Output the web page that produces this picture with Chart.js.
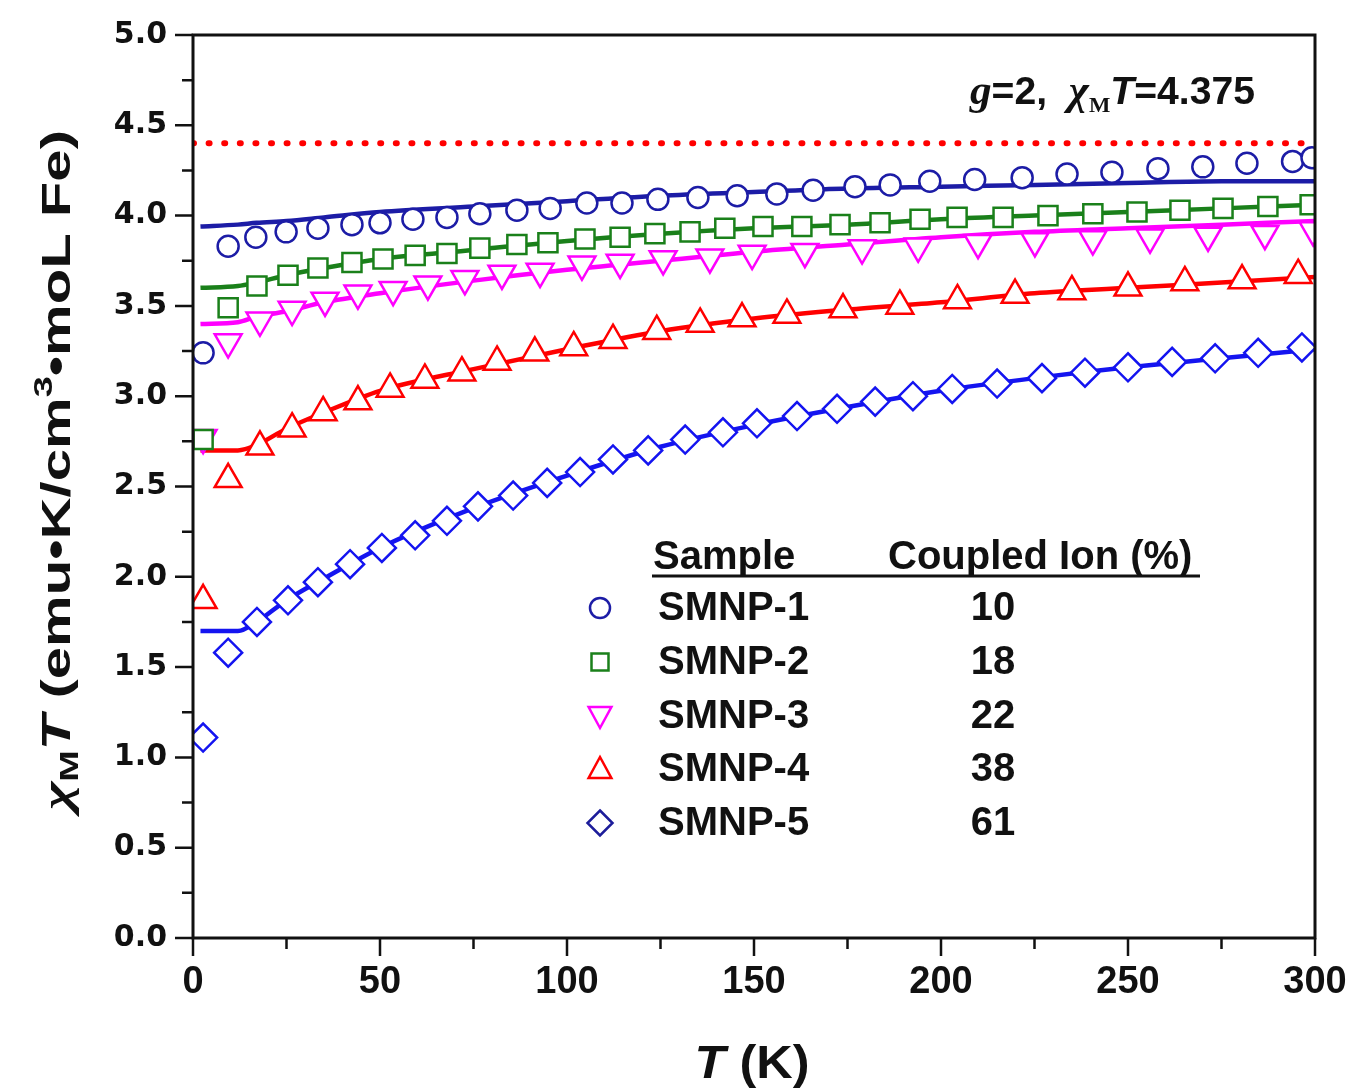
<!DOCTYPE html>
<html>
<head>
<meta charset="utf-8">
<script src="https://cdn.jsdelivr.net/npm/chart.js@4.4.1/dist/chart.umd.min.js"></script>
<style>
  html, body { margin: 0; padding: 0; background: #fff; }
  #wrap { width: 1352px; height: 1089px; position: relative; }
</style>
</head>
<body>
<div id="wrap"><canvas id="chi-canvas"></canvas></div>
<script>
// measured points (T in K, chiM*T)
const s1T = [2.7, 9.4, 16.8, 24.9, 33.4, 42.5, 50, 58.8, 67.9, 76.7, 86.6, 95.5, 105.3, 114.7, 124.3, 135, 145.5, 156.1, 165.8, 177, 186.4, 197, 209, 221.7, 233.7, 245.7, 258, 270, 281.8, 294, 299.2];
const s1Y = [3.24, 3.83, 3.88, 3.91, 3.93, 3.95, 3.96, 3.98, 3.99, 4.01, 4.03, 4.04, 4.07, 4.07, 4.09, 4.10, 4.11, 4.12, 4.14, 4.16, 4.17, 4.19, 4.20, 4.21, 4.23, 4.24, 4.26, 4.27, 4.29, 4.30, 4.32];

const s2T = [2.7, 9.4, 17.1, 25.4, 33.4, 42.5, 50.8, 59.4, 67.9, 76.7, 86.6, 94.9, 104.8, 114.2, 123.5, 132.9, 142.2, 152.4, 162.8, 173, 183.7, 194.4, 204.3, 216.6, 228.6, 240.6, 252.4, 263.9, 275.4, 287.4, 298.7];
const s2Y = [2.76, 3.49, 3.61, 3.67, 3.71, 3.74, 3.76, 3.78, 3.79, 3.82, 3.84, 3.85, 3.87, 3.88, 3.90, 3.91, 3.93, 3.94, 3.94, 3.95, 3.96, 3.98, 3.99, 3.99, 4.00, 4.01, 4.02, 4.03, 4.04, 4.05, 4.06];

const s3T = [2.7, 9.4, 17.9, 26.5, 35.3, 44.1, 53.5, 62.8, 72.7, 82.6, 92.8, 104, 114.2, 125.7, 138.2, 149.5, 163.6, 178.9, 193.9, 209.9, 225.1, 240.6, 255.9, 271.4, 286.6, 299.5];
const s3Y = [2.77, 3.30, 3.42, 3.48, 3.53, 3.57, 3.59, 3.62, 3.65, 3.68, 3.69, 3.73, 3.74, 3.76, 3.77, 3.79, 3.80, 3.82, 3.83, 3.85, 3.86, 3.87, 3.88, 3.89, 3.90, 3.92];

const s4T = [2.7, 9.4, 17.9, 26.5, 34.8, 44.1, 52.7, 62, 71.9, 81.3, 91.4, 101.8, 112.3, 124, 135.6, 146.8, 158.8, 173.8, 189, 204.4, 219.8, 235, 250, 265.2, 280.5, 295.5];
const s4Y = [1.87, 2.54, 2.72, 2.82, 2.91, 2.97, 3.04, 3.09, 3.13, 3.19, 3.24, 3.27, 3.31, 3.36, 3.40, 3.43, 3.45, 3.48, 3.50, 3.53, 3.56, 3.58, 3.60, 3.63, 3.64, 3.67];

const s5T = [2.7, 9.4, 17.1, 25.4, 33.4, 42, 50.5, 59.4, 67.9, 76.2, 85.6, 94.7, 103.5, 112.3, 121.7, 131.6, 141.7, 150.8, 161.5, 172.2, 182.4, 192.5, 203, 215, 227, 238.5, 250, 261.8, 273.3, 284.8, 296.5];
const s5Y = [1.11, 1.58, 1.75, 1.87, 1.97, 2.07, 2.16, 2.23, 2.31, 2.39, 2.45, 2.52, 2.58, 2.65, 2.70, 2.76, 2.80, 2.85, 2.89, 2.93, 2.97, 3.00, 3.04, 3.07, 3.10, 3.13, 3.16, 3.19, 3.21, 3.24, 3.27];

// fitted curves
const fitT = [2, 12, 17, 25, 35, 50, 75, 100, 125, 150, 175, 200, 225, 250, 275, 300];
const fit1 = [3.94, 3.95, 3.96, 3.97, 3.99, 4.02, 4.05, 4.08, 4.11, 4.13, 4.15, 4.16, 4.17, 4.18, 4.19, 4.19];
const fit2 = [3.60, 3.61, 3.63, 3.67, 3.71, 3.76, 3.81, 3.86, 3.90, 3.93, 3.95, 3.98, 4.00, 4.02, 4.04, 4.06];
const fit3 = [3.40, 3.41, 3.44, 3.47, 3.52, 3.57, 3.64, 3.70, 3.75, 3.80, 3.84, 3.88, 3.91, 3.93, 3.95, 3.97];
const fit4 = [2.70, 2.70, 2.73, 2.82, 2.91, 3.03, 3.15, 3.26, 3.36, 3.43, 3.48, 3.52, 3.57, 3.60, 3.63, 3.66];
const fit5 = [1.70, 1.70, 1.75, 1.87, 1.99, 2.16, 2.38, 2.56, 2.72, 2.84, 2.94, 3.03, 3.10, 3.16, 3.21, 3.26];

// g=2 spin-only level
const limitT = [0, 300];
const limitY = [4.4, 4.4];

const sampleNames = ['SMNP-1', 'SMNP-2', 'SMNP-3', 'SMNP-4', 'SMNP-5'];
const coupledIon = ['10', '18', '22', '38', '61'];
const colors = ['#1c1ca6', '#1a801a', '#ff00ff', '#ff0000', '#1414f0'];
const styles = ['circle', 'rect', 'triangle', 'triangle', 'rectRot'];
const rotations = [0, 0, 180, 0, 0];
const radii = [10.5, 13.5, 15.5, 15.5, 14];

const pts = (xs, ys) => xs.map((v, i) => ({x: v, y: ys[i]}));

const measured = [[s1T, s1Y], [s2T, s2Y], [s3T, s3Y], [s4T, s4Y], [s5T, s5Y]];
const fits = [fit1, fit2, fit3, fit4, fit5];

const datasets = [];
measured.forEach((m, i) => {
    datasets.push({
        label: sampleNames[i],
        data: pts(m[0], m[1]),
        showLine: false,
        pointStyle: styles[i],
        rotation: rotations[i],
        pointRadius: radii[i],
        pointBorderWidth: 2.5,
        borderColor: colors[i],
        backgroundColor: '#ffffff',
        order: 0
    });
});
fits.forEach((f, i) => {
    datasets.push({
        label: sampleNames[i] + ' fit',
        data: pts(fitT, f),
        showLine: true,
        borderColor: colors[i],
        borderWidth: 4.5,
        pointRadius: 0,
        cubicInterpolationMode: 'monotone',
        order: 1
    });
});
datasets.push({
    label: 'g=2',
    data: pts(limitT, limitY),
    showLine: true,
    borderColor: '#ff0000',
    borderWidth: 6,
    borderDash: [1, 14.6],
    borderCapStyle: 'round',
    pointRadius: 0,
    order: 2
});

function marker(ctx, style, rot, x, y, r) {
    ctx.beginPath();
    if (style === 'circle') {
        ctx.arc(x, y, r, 0, Math.PI * 2);
    } else if (style === 'rect') {
        ctx.rect(x - r, y - r, 2 * r, 2 * r);
    } else if (style === 'triangle') {
        const s = rot ? -1 : 1;
        ctx.moveTo(x, y - s * r);
        ctx.lineTo(x + r * 0.95, y + s * r * 0.75);
        ctx.lineTo(x - r * 0.95, y + s * r * 0.75);
        ctx.closePath();
    } else {
        ctx.moveTo(x, y - r); ctx.lineTo(x + r, y); ctx.lineTo(x, y + r); ctx.lineTo(x - r, y);
        ctx.closePath();
    }
    ctx.stroke();
}

// draws runs of text with different fonts / offsets; stretch = target width
function richText(ctx, parts, x, y, align, stretch) {
    let w = 0;
    parts.forEach(p => { ctx.font = p.font; w += ctx.measureText(p.t).width; });
    const k = stretch ? stretch / w : 1;
    ctx.save();
    ctx.translate(x, y);
    ctx.scale(k, 1);
    let cx = align === 'center' ? -w / 2 : 0;
    parts.forEach(p => {
        ctx.font = p.font;
        ctx.fillText(p.t, cx, p.dy || 0);
        cx += ctx.measureText(p.t).width;
    });
    ctx.restore();
}

const SANS = "'Liberation Sans', Arial, sans-serif";
const SERIF = "'Liberation Serif', 'Times New Roman', serif";

const decor = {
    id: 'decor',
    afterDraw(chart) {
        const {ctx, chartArea: a, scales: {x, y}} = chart;
        ctx.save();
        ctx.strokeStyle = '#111';
        ctx.fillStyle = '#111';
        ctx.lineWidth = 3;
        ctx.strokeRect(a.left, a.top, a.right - a.left, a.bottom - a.top);

        // ticks, major and minor, outside
        ctx.lineWidth = 2.5;
        ctx.beginPath();
        for (let k = 0; k <= 20; k++) {
            const p = y.getPixelForValue(k * 0.25);
            const len = k % 2 === 0 ? 18 : 11;
            ctx.moveTo(a.left - len, p); ctx.lineTo(a.left, p);
        }
        for (let k = 0; k <= 12; k++) {
            const p = x.getPixelForValue(k * 25);
            const len = k % 2 === 0 ? 18 : 11;
            ctx.moveTo(p, a.bottom); ctx.lineTo(p, a.bottom + len);
        }
        ctx.stroke();

        // x title
        ctx.textBaseline = 'alphabetic';
        richText(ctx, [
            {t: 'T', font: 'italic bold 46px ' + SANS},
            {t: ' (K)', font: 'bold 46px ' + SANS}
        ], 752, 1078, 'center', 115);

        // y title
        ctx.save();
        ctx.translate(70, 470);
        ctx.rotate(-Math.PI / 2);
        richText(ctx, [
            {t: 'χ', font: 'italic bold 42px ' + SERIF},
            {t: 'M', font: 'bold 26px ' + SANS, dy: 8},
            {t: 'T', font: 'italic bold 40px ' + SANS},
            {t: ' (emu•K/cm', font: 'bold 40px ' + SANS},
            {t: '3', font: 'bold 26px ' + SANS, dy: -18},
            {t: '•moL Fe)', font: 'bold 40px ' + SANS}
        ], 0, 0, 'center', 680);
        ctx.restore();

        // annotation
        richText(ctx, [
            {t: 'g', font: 'italic bold 42px ' + SERIF},
            {t: '=2,  ', font: 'bold 38px ' + SANS},
            {t: 'χ', font: 'italic bold 42px ' + SERIF},
            {t: 'M', font: 'bold 22px ' + SERIF, dy: 8},
            {t: 'T', font: 'italic bold 38px ' + SANS},
            {t: '=4.375', font: 'bold 38px ' + SANS}
        ], 970, 104, 'left', 285);

        // legend table
        ctx.font = 'bold 40px ' + SANS;
        ctx.textAlign = 'left';
        ctx.fillText('Sample', 653, 569);
        ctx.fillText('Coupled Ion (%)', 888, 569);
        ctx.lineWidth = 3;
        ctx.beginPath();
        ctx.moveTo(652, 576); ctx.lineTo(1200, 576);
        ctx.stroke();
        const rowY = [608, 662, 716, 769, 823];
        const legR = [10, 8.5, 12, 12, 12.5];
        ctx.textBaseline = 'middle';
        sampleNames.forEach((n, i) => {
            ctx.fillStyle = '#111';
            ctx.font = 'bold 40px ' + SANS;
            ctx.textAlign = 'left';
            ctx.fillText(n, 658, rowY[i] + 1);
            ctx.textAlign = 'center';
            ctx.fillText(coupledIon[i], 993, rowY[i] + 1);
            ctx.strokeStyle = i === 4 ? '#1c1c9a' : colors[i];
            ctx.lineWidth = 2.5;
            marker(ctx, styles[i], rotations[i], 600, rowY[i], legR[i]);
        });
        ctx.restore();
    }
};

function noPad(s) {
    s.paddingLeft = 0; s.paddingRight = 0; s.paddingTop = 0; s.paddingBottom = 0;
}

const config = {
    type: 'scatter',
    data: {datasets: datasets},
    options: {
        responsive: true,
        maintainAspectRatio: false,
        animation: false,
        devicePixelRatio: 1,
        layout: {padding: {top: 35, right: 37, left: 0, bottom: 0}},
        plugins: {
            legend: {display: false},
            tooltip: {enabled: false}
        },
        scales: {
            x: {
                type: 'linear',
                min: 0,
                max: 300,
                grid: {display: false, drawTicks: false},
                border: {display: false},
                ticks: {
                    stepSize: 50,
                    padding: 22,
                    color: '#111',
                    font: {family: SANS, size: 38, weight: 'bold'}
                },
                afterFit: (s) => { s.height = 151; noPad(s); }
            },
            y: {
                type: 'linear',
                min: 0,
                max: 5,
                grid: {display: false, drawTicks: false},
                border: {display: false},
                ticks: {
                    stepSize: 0.5,
                    padding: 26,
                    color: '#111',
                    font: {family: "'DejaVu Sans', " + SANS, size: 30, weight: 'bold'},
                    callback: (v) => v.toFixed(1)
                },
                afterFit: (s) => { s.width = 193; noPad(s); }
            }
        }
    },
    plugins: [decor]
};

const chi_ctx = document.getElementById('chi-canvas');
let chi_chart = new Chart(chi_ctx, config);
</script>
</body>
</html>
